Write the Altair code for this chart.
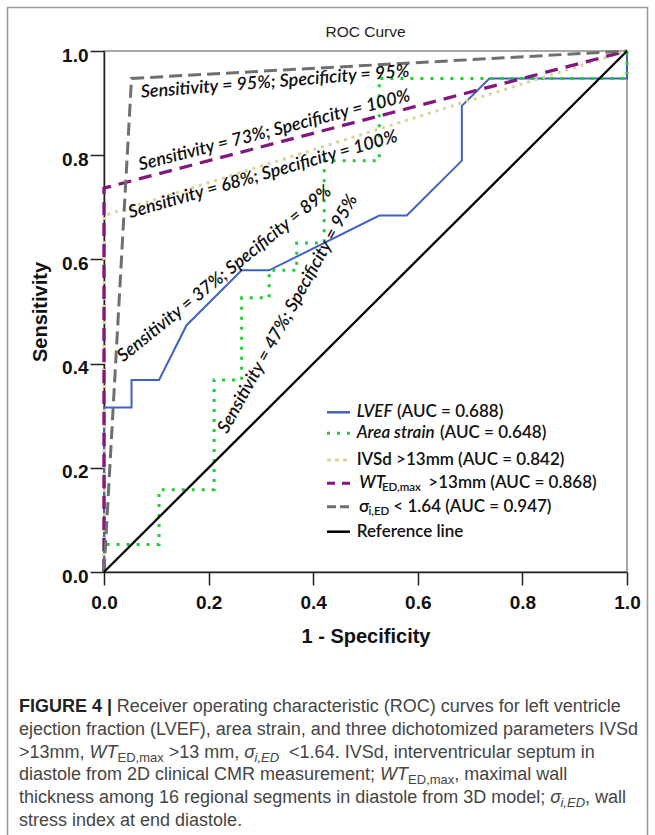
import altair as alt
import pandas as pd

# ---------------- data (counts out of 19 positives / 19 negatives) ----------------
N = 19
lvef_fpr = [0, 0, 1, 1, 2, 3, 5, 6, 10, 11, 13, 13, 14, 19, 19]
lvef_tpr = [0, 6, 6, 7, 7, 9, 11, 11, 13, 13, 15, 17, 18, 18, 19]
area_fpr = [0, 0, 2, 2, 4, 4, 5, 5, 6, 6, 7, 7, 8, 8, 10, 10, 19, 19]
area_tpr = [0, 1, 1, 3, 3, 7, 7, 10, 10, 11, 11, 12, 12, 15, 15, 18, 18, 19]
ivsd_fpr = [0, 0, 19]
ivsd_tpr = [0, 13, 19]
wt_fpr = [0, 0, 19]
wt_tpr = [0, 14, 19]
sigma_fpr = [0, 1, 19]
sigma_tpr = [0, 18, 19]
ref_fpr = [0, 19]
ref_tpr = [0, 19]

tick_values = [0.0, 0.2, 0.4, 0.6, 0.8, 1.0]

annot_texts = [
    "Sensitivity = 95%; Specificity = 95%",
    "Sensitivity = 73%; Specificity = 100%",
    "Sensitivity = 68%; Specificity = 100%",
    "Sensitivity = 37%; Specificity = 89%",
    "Sensitivity = 47%; Specificity = 95%",
]
annot_x = [0.327, 0.326, 0.304, 0.231, 0.352]
annot_y = [0.940, 0.847, 0.762, 0.572, 0.495]
annot_angle = [355.5, 345.5, 344, 321, 299]

# caption: each line is a list of (text, kind) runs
caption_lines = [
    [("FIGURE 4 |", "bold"), (" Receiver operating characteristic (ROC) curves for left ventricle", "reg")],
    [("ejection fraction (LVEF), area strain, and three dichotomized parameters IVSd", "reg")],
    [(">13mm, ", "reg"), ("WT", "it"), ("ED,max", "sub"), (" >13 mm, ", "reg"), ("σ", "it"),
     ("i,ED", "subit"), ("  <1.64. IVSd, interventricular septum in", "reg")],
    [("diastole from 2D clinical CMR measurement; ", "reg"), ("WT", "it"), ("ED,max", "sub"),
     (", maximal wall", "reg")],
    [("thickness among 16 regional segments in diastole from 3D model; ", "reg"), ("σ", "it"),
     ("i,ED", "subit"), (", wall", "reg")],
    [("stress index at end diastole.", "reg")],
]

# ---------------- layout ----------------
W, H = 523, 521
PX, PY = 104, 51          # plot origin in the page
dummy = pd.DataFrame({"d": [0]})

BLUE = "#4062c2"
GREEN = "#22cc33"
KHAKI = "#ddd29a"
PURPLE = "#82187f"
GRAY = "#6f6f6f"
BLACK = "#000000"

# Arial / Liberation Sans advance widths (em) used to chain caption runs
_AW = {' ': .278, 'a': .556, 'b': .556, 'c': .5, 'd': .556, 'e': .556, 'f': .278, 'g': .556,
       'h': .556, 'i': .222, 'j': .222, 'k': .5, 'l': .222, 'm': .833, 'n': .556, 'o': .556,
       'p': .556, 'q': .556, 'r': .333, 's': .5, 't': .278, 'u': .556, 'v': .5, 'w': .722,
       'x': .5, 'y': .5, 'z': .5, ',': .278, '.': .278, ';': .278, '<': .584, '>': .584,
       '(': .333, ')': .333, '|': .26, '-': .333, 'σ': .57,
       'A': .667, 'B': .667, 'C': .722, 'D': .722, 'E': .667, 'F': .611, 'G': .778, 'H': .722,
       'I': .278, 'J': .5, 'K': .667, 'L': .556, 'M': .833, 'N': .722, 'O': .778, 'P': .667,
       'Q': .778, 'R': .722, 'S': .667, 'T': .611, 'U': .722, 'V': .667, 'W': .944, 'X': .667,
       'Y': .667, 'Z': .611}


def text_width(s, size, bold=False):
    w = 0.0
    for ch in s:
        if ch.isdigit():
            w += .556
        else:
            w += _AW.get(ch, .556)
    if bold:
        w *= 1.0
    return w * size


def series_df(fpr, tpr):
    return pd.DataFrame({"fpr": [v / N for v in fpr],
                         "tpr": [v / N for v in tpr],
                         "i": list(range(len(fpr)))})


xaxis = alt.Axis(values=tick_values, format=".1f", title="1 - Specificity",
                 grid=False, tickSize=13, tickWidth=1.5, tickColor="#222",
                 domainColor="#222", domainWidth=1.5,
                 labelFont="Liberation Sans", labelFontWeight="bold",
                 labelFontSize=19, labelColor="#111", labelPadding=17,
                 labelBaseline="middle", labelFlush=False,
                 titleFont="Liberation Sans", titleFontWeight="bold",
                 titleFontSize=20, titleColor="#111", titleX=W / 2,
                 titleY=64, titleBaseline="middle", titleAlign="center")
yaxis = alt.Axis(values=tick_values, format=".1f", title="Sensitivity",
                 grid=False, tickSize=14, tickWidth=1.5, tickColor="#222",
                 domainColor="#222", domainWidth=1.5,
                 labelFont="Liberation Sans", labelFontWeight="bold",
                 labelFontSize=19, labelColor="#111", labelPadding=2,
                 labelOffset=4, labelFlush=False,
                 titleFont="Liberation Sans", titleFontWeight="bold",
                 titleFontSize=20, titleColor="#111", titleAngle=270,
                 titleX=-64, titleY=H / 2, titleBaseline="middle",
                 titleAlign="center")
xscale = alt.Scale(domain=[0, 1], nice=False, zero=True)
yscale = alt.Scale(domain=[0, 1], nice=False, zero=True)
X = alt.X("fpr:Q", scale=xscale, axis=xaxis)
Y = alt.Y("tpr:Q", scale=yscale, axis=yaxis)


def curve(fpr, tpr, color, width, dash=None):
    kw = dict(color=color, strokeWidth=width, strokeCap="butt", clip=False)
    if dash is not None:
        kw["strokeDash"] = dash
    return alt.Chart(series_df(fpr, tpr)).mark_line(**kw).encode(
        x=X, y=Y, order="i:Q")


def txt(s, x, y, size, weight="normal", style="normal", font="Roboto",
        color="#333", align="left"):
    return alt.Chart(dummy).mark_text(
        text=s, fontSize=size, fontWeight=weight, fontStyle=style, font=font,
        color=color, align=align, baseline="middle").encode(
        x=alt.value(x - PX), y=alt.value(y - PY))


def sample(y, color, width, dash=None):
    kw = dict(color=color, strokeWidth=width, strokeCap="butt")
    if dash is not None:
        kw["strokeDash"] = dash
    return alt.Chart(dummy).mark_rule(**kw).encode(
        x=alt.value(327 - PX), x2=alt.value(350 - PX), y=alt.value(y - PY))


layers = []

# outer figure frame
layers.append(alt.Chart(dummy).mark_rect(filled=False, stroke="#9a9a9a",
                                          strokeWidth=1.6).encode(
    x=alt.value(7.5 - PX), x2=alt.value(647.5 - PX),
    y=alt.value(7.5 - PY), y2=alt.value(900 - PY)))

# curves
layers.append(curve(lvef_fpr, lvef_tpr, BLUE, 2))
layers.append(curve(area_fpr, area_tpr, GREEN, 3, [3, 7]))
layers.append(curve(ivsd_fpr, ivsd_tpr, KHAKI, 3, [3, 5]))
layers.append(curve(wt_fpr, wt_tpr, PURPLE, 3.3, [13, 8]))
layers.append(curve(sigma_fpr, sigma_tpr, GRAY, 3, [13, 6]))
layers.append(curve(ref_fpr, ref_tpr, BLACK, 2.3))

# annotations inside the plot
for t, ax_, ay_, ang in zip(annot_texts, annot_x, annot_y, annot_angle):
    layers.append(alt.Chart(dummy).mark_text(
        text=t, font="Lato", fontStyle="italic", fontWeight=600, fontSize=18,
        color="#111", angle=ang, align="center", baseline="middle").encode(
        x=alt.datum(ax_), y=alt.datum(ay_)))

# title
layers.append(txt("ROC Curve", PX + W / 2, 32, 15.5, font="Liberation Sans",
                  color="#222", align="center"))

# legend
LF = "Lato"
LS = 17
LW = 600
LC = "#111"
rows = [412.3, 433.3, 460, 483.3, 506.7, 531.7]
layers.append(sample(rows[0], BLUE, 2.5))
layers.append(sample(rows[1], GREEN, 3, [3, 7]))
layers.append(sample(rows[2], KHAKI, 3, [4, 4]))
layers.append(sample(rows[3], PURPLE, 3, [8, 7]))
layers.append(sample(rows[4], GRAY, 3, [9, 4]))
layers.append(sample(rows[5], BLACK, 2.5))

layers.append(txt("LVEF", 356.7, rows[0], LS, LW, "italic", LF, LC))
layers.append(txt("(AUC = 0.688)", 397, rows[0], LS, LW, "normal", LF, LC))
layers.append(txt("Area strain", 356.7, rows[1], LS, LW, "italic", LF, LC))
layers.append(txt("(AUC = 0.648)", 440, rows[1], LS, LW, "normal", LF, LC))
layers.append(txt("IVSd >13mm (AUC = 0.842)", 356.7, rows[2], LS, LW, "normal", LF, LC))
layers.append(txt("WT", 359.3, rows[3], LS, LW, "italic", LF, LC))
layers.append(txt("ED,max", 382, rows[3] + 5, 11.5, LW, "normal", LF, LC))
layers.append(txt(">13mm (AUC = 0.868)", 428.3, rows[3], LS, LW, "normal", LF, LC))
layers.append(txt("σ", 359, rows[4], LS, LW, "normal", LF, LC))
layers.append(txt("i,ED", 368.5, rows[4] + 5, 11.5, LW, "normal", LF, LC))
layers.append(txt("< 1.64 (AUC = 0.947)", 393.3, rows[4], LS, LW, "normal", LF, LC))
layers.append(txt("Reference line", 356.7, rows[5], LS, LW, "normal", LF, LC))

# caption, runs chained with estimated widths (leading blanks advance x only)
CF = "Liberation Sans"
CS = 18
SUB = 13
CC = "#454545"
for li, runs in enumerate(caption_lines):
    y0 = 707 + 22.8 * li
    x0 = 19.0
    for s, kind in runs:
        size = SUB if kind in ("sub", "subit") else CS
        bold = kind == "bold"
        lead = len(s) - len(s.lstrip(" "))
        x0 += text_width(s[:lead], size, bold)
        body = s.lstrip(" ")
        if kind == "bold":
            layers.append(txt(body, x0, y0, CS, "bold", "normal", CF, "#222"))
        elif kind == "reg":
            layers.append(txt(body, x0, y0, CS, "normal", "normal", CF, CC))
        elif kind == "it":
            layers.append(txt(body, x0, y0, CS, "normal", "italic", CF, CC))
        elif kind == "sub":
            layers.append(txt(body, x0, y0 + 5, SUB, "normal", "normal", CF, CC))
        else:
            layers.append(txt(body, x0, y0 + 5, SUB, "normal", "italic", CF, CC))
        x0 += text_width(body, size, bold)

chart = alt.layer(*layers).properties(
    width=W, height=H,
    autosize=alt.AutoSizeParams(type="none"),
    padding={"left": PX, "top": PY, "right": 655 - PX - W, "bottom": 835 - PY - H},
    background="white",
).configure_view(stroke="#8a8a8a", strokeWidth=1.5)

chart.save("out.html", embed_options={"renderer": "svg", "actions": False})
